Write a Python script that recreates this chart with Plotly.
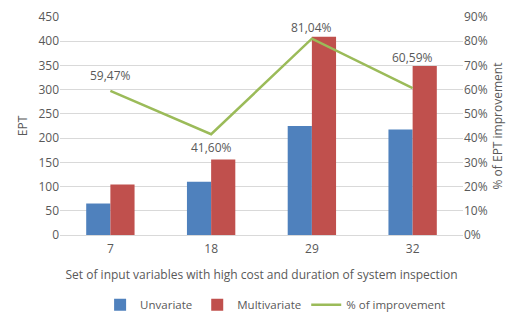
import plotly.graph_objects as go

categories = ["7", "18", "29", "32"]
unvariate = [65, 110, 225, 218]
multivariate = [104, 156, 409, 349]
improvement = [0.5947, 0.4160, 0.8104, 0.6059]
label_shift = [15, -13, 11, 31]

FONT = "Open Sans"
GRAY = "#595959"

fig = go.Figure()
fig.add_trace(go.Bar(x=categories, y=unvariate, name="Unvariate",
                     marker=dict(color="#4F81BD", line=dict(width=0))))
fig.add_trace(go.Bar(x=categories, y=multivariate, name="Multivariate",
                     marker=dict(color="#C0504D", line=dict(width=0))))
fig.add_trace(go.Scatter(x=categories, y=improvement, name="% of improvement",
                         yaxis="y2", mode="lines",
                         line=dict(color="#9BBB59", width=2.5)))

for i, (v, s) in enumerate(zip(improvement, label_shift)):
    fig.add_annotation(x=i, y=v, yref="y2", xref="x",
                       text=f"{v*100:.2f}%".replace(".", ","),
                       showarrow=False, yshift=s,
                       font=dict(family=FONT, size=12, color=GRAY))

# page body has an 8px margin, so the figure is sized/offset to compensate
fig.update_layout(
    width=509, height=305,
    margin=dict(l=52, r=54, t=9, b=78, autoexpand=False),
    paper_bgcolor="white", plot_bgcolor="white",
    font=dict(family=FONT, size=11, color=GRAY),
    separators=",.",
    barmode="group", bargap=0.52, bargroupgap=0,
    xaxis=dict(type="category", showgrid=False, showline=True,
               linecolor="#D9D9D9", ticks="", range=[-0.5, 3.5],
               ticklabelstandoff=3,
               tickfont=dict(size=12, color=GRAY),
               title=dict(text="Set of input variables with high cost and duration of system inspection",
                          font=dict(size=12, color=GRAY), standoff=14)),
    yaxis=dict(range=[0, 450], dtick=50, showgrid=True, gridcolor="#D9D9D9",
               zeroline=False, ticks="", tickfont=dict(size=12, color=GRAY),
               title=dict(text="EPT", font=dict(size=12, color=GRAY), standoff=8)),
    yaxis2=dict(range=[0, 0.9], dtick=0.1, tickformat=".0%", overlaying="y",
                side="right", showgrid=False, zeroline=False, ticks="",
                tickfont=dict(size=12, color=GRAY),
                title=dict(text="% of EPT improvement", font=dict(size=12, color=GRAY), standoff=6)),
    legend=dict(orientation="h", x=0.535, xanchor="center", y=-0.32, yanchor="middle",
                font=dict(size=11.5, color=GRAY), traceorder="normal"),
    showlegend=True,
)

fig.write_html("out.html")
